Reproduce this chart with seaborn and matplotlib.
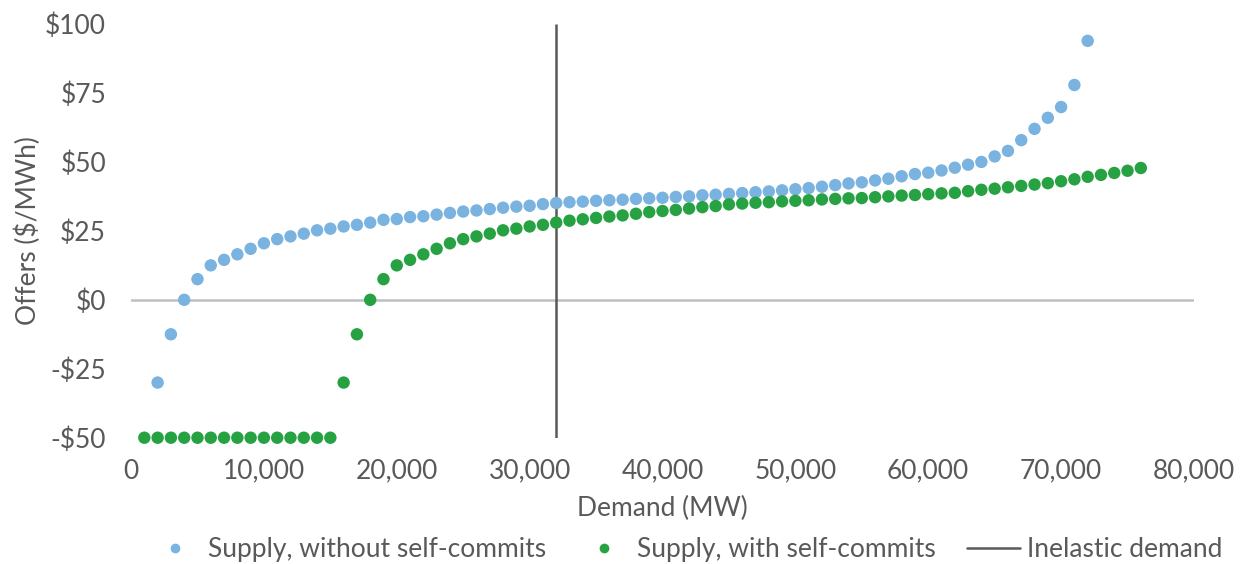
import matplotlib
matplotlib.use("Agg")
import matplotlib.pyplot as plt
from matplotlib.lines import Line2D
from matplotlib.ticker import FuncFormatter
import seaborn as sns
import pandas as pd

# ---- data ----
demand_without = [2000, 3000, 4000, 5000, 6000, 7000, 8000, 9000, 10000, 11000,
                  12000, 13000, 14000, 15000, 16000, 17000, 18000, 19000, 20000, 21000,
                  22000, 23000, 24000, 25000, 26000, 27000, 28000, 29000, 30000, 31000,
                  32000, 33000, 34000, 35000, 36000, 37000, 38000, 39000, 40000, 41000,
                  42000, 43000, 44000, 45000, 46000, 47000, 48000, 49000, 50000, 51000,
                  52000, 53000, 54000, 55000, 56000, 57000, 58000, 59000, 60000, 61000,
                  62000, 63000, 64000, 65000, 66000, 67000, 68000, 69000, 70000, 71000,
                  72000]
offers_without = [-30, -12.5, 0, 7.5, 12.5, 14.5, 16.5, 18.5, 20.5, 22,
                  23, 24, 25.2, 25.8, 26.6, 27.2, 28, 29, 29.3, 30,
                  30.3, 30.9, 31.5, 32, 32.4, 32.9, 33.4, 33.8, 34.1, 34.7,
                  35.1, 35.4, 35.6, 35.9, 36.1, 36.3, 36.6, 36.8, 37.0, 37.3,
                  37.5, 37.9, 38.1, 38.4, 38.7, 39.0, 39.3, 39.7, 40.1, 40.5,
                  41.0, 41.6, 42.2, 42.6, 43.3, 43.9, 44.8, 45.6, 46.1, 46.9,
                  47.9, 49.0, 50.0, 52, 54, 57.9, 62.0, 66.0, 69.9, 77.9,
                  93.9]

demand_with = [1000, 2000, 3000, 4000, 5000, 6000, 7000, 8000, 9000, 10000,
               11000, 12000, 13000, 14000, 15000, 16000, 17000, 18000, 19000, 20000,
               21000, 22000, 23000, 24000, 25000, 26000, 27000, 28000, 29000, 30000,
               31000, 32000, 33000, 34000, 35000, 36000, 37000, 38000, 39000, 40000,
               41000, 42000, 43000, 44000, 45000, 46000, 47000, 48000, 49000, 50000,
               51000, 52000, 53000, 54000, 55000, 56000, 57000, 58000, 59000, 60000,
               61000, 62000, 63000, 64000, 65000, 66000, 67000, 68000, 69000, 70000,
               71000, 72000, 73000, 74000, 75000, 76000]
offers_with = [-50, -50, -50, -50, -50, -50, -50, -50, -50, -50,
               -50, -50, -50, -50, -50, -30, -12.5, 0, 7.5, 12.5,
               14.5, 16.5, 18.5, 20.5, 22, 23, 24, 25.2, 25.8, 26.6,
               27.2, 28, 28.7, 29.2, 29.7, 30.2, 30.6, 31.2, 31.8, 32.2,
               32.6, 33.1, 33.6, 34, 34.6, 34.9, 35.2, 35.4, 35.7, 35.9,
               36.1, 36.4, 36.6, 36.8, 36.9, 37.2, 37.5, 37.8, 38, 38.3,
               38.6, 38.8, 39.4, 39.9, 40.3, 40.8, 41.3, 41.8, 42.3, 43,
               43.7, 44.6, 45.3, 46, 46.8, 47.8]

inelastic_demand_x = [32000, 32000]
inelastic_demand_y = [-50, 100]

series_names = ["Supply, without self-commits", "Supply, with self-commits", "Inelastic demand"]
x_ticks = [0, 10000, 20000, 30000, 40000, 50000, 60000, 70000, 80000]
y_ticks = [-50, -25, 0, 25, 50, 75, 100]

# ---- style ----
BLUE = "#7AB3E0"
GREEN = "#27A243"
DARK = "#595959"
TEXT = "#595959"
FS = 19

sns.set_theme(style="white")
plt.rcParams["font.family"] = ["Lato", "DejaVu Sans"]

df = pd.concat([
    pd.DataFrame({"Demand": demand_without, "Offer": offers_without, "Series": series_names[0]}),
    pd.DataFrame({"Demand": demand_with, "Offer": offers_with, "Series": series_names[1]}),
], ignore_index=True)

fig = plt.figure(figsize=(12.41, 5.64), dpi=100)
ax = fig.add_axes([0.1056, 0.2239, 0.9621 - 0.1056, 0.9574 - 0.2239])

ax.axhline(0, color="#BFBFBF", lw=1.8, zorder=1)
ax.plot(inelastic_demand_x, inelastic_demand_y, color=DARK, lw=1.8, zorder=2,
        solid_capstyle="butt")

sns.scatterplot(data=df, x="Demand", y="Offer", hue="Series",
                palette={series_names[0]: BLUE, series_names[1]: GREEN},
                s=80, linewidth=0, ax=ax, legend=False, zorder=3, clip_on=False)

ax.set_xlim(0, 80000)
ax.set_ylim(-50, 100)
ax.set_xticks(x_ticks)
ax.set_yticks(y_ticks)
ax.xaxis.set_major_formatter(FuncFormatter(lambda v, p: f"{int(v):,}"))
ax.yaxis.set_major_formatter(FuncFormatter(lambda v, p: f"${int(v)}" if v >= 0 else f"-${int(-v)}"))
for s in ax.spines.values():
    s.set_visible(False)
ax.tick_params(axis="both", length=0, labelsize=FS, colors=TEXT)
ax.tick_params(axis="x", pad=15)
ax.tick_params(axis="y", pad=18)

ax.set_xlabel("Demand (MW)", fontsize=FS, color=TEXT, labelpad=9)
ax.set_ylabel("Offers ($/MWh)", fontsize=FS, color=TEXT, labelpad=3)

handles = [
    Line2D([0], [0], marker="o", color="none", markerfacecolor=BLUE, markeredgewidth=0, markersize=7),
    Line2D([0], [0], marker="o", color="none", markerfacecolor=GREEN, markeredgewidth=0, markersize=7),
    Line2D([0], [0], color=DARK, lw=1.8),
]
leg = fig.legend(handles, series_names, loc="center", bbox_to_anchor=(0.552, 0.026),
                 ncol=3, frameon=False, fontsize=FS, labelcolor=TEXT,
                 handlelength=2.0, handletextpad=0.25, columnspacing=1.2)

fig.savefig("out.png", dpi=100)
